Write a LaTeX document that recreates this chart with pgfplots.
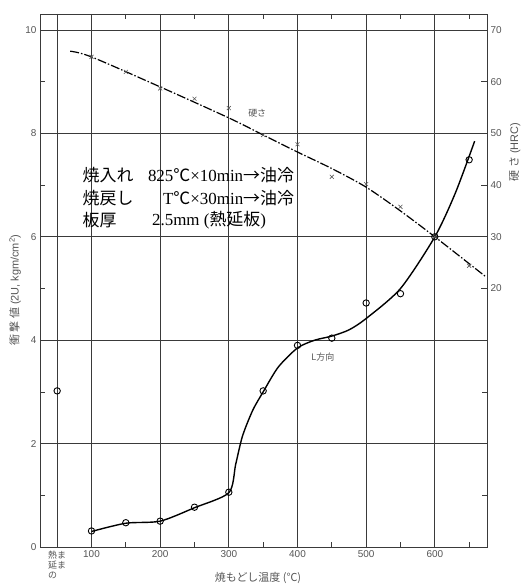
\documentclass[border=0pt]{standalone}
\usepackage{fontspec}
\setmainfont{Liberation Serif}
\newfontfamily\jp{Noto Sans CJK JP}
\newfontfamily\tk{Liberation Sans}
\usepackage{pgfplots}
\pgfplotsset{compat=1.18}
\definecolor{gridc}{HTML}{3A3A3A}
\definecolor{lab}{HTML}{555555}
\begin{document}
\begin{tikzpicture}
\begin{axis}[
  name=main,
  scale only axis, width=447bp, height=533bp,
  xmin=25, xmax=676, ymin=0, ymax=10.31,
  xtick={50,100,200,300,400,500,600},
  xticklabels={{\jp\fontsize{9}{10}\selectfont\begin{tabular}[t]{@{}l@{}}熱ま\\延ま\\の\end{tabular}},100,200,300,400,500,600},
  minor xtick={150,250,350,450,550,650},
  ytick={0,2,...,10}, minor ytick={1,3,...,9},
  grid=major, major grid style={gridc, line width=0.7pt},
  axis line style={gridc, line width=0.9pt},
  tick style={gridc, line width=0.7pt},
  major tick length=5bp, minor tick length=5bp,
  tick label style={font=\tk\fontsize{10}{12}\selectfont, text=lab},
  /pgf/number format/assume math mode=true,
  clip=false,
]
\addplot[black, line width=1.4pt, smooth, tension=0.45] coordinates {
  (100,0.30) (150,0.46) (200,0.50) (250,0.76) (300,1.05)
  (310,1.60) (320,2.15) (335,2.65) (350,3.00) (372,3.48)
  (400,3.85) (425,4.00) (450,4.08) (475,4.20) (500,4.42)
  (550,5.00) (600,6.00) (630,6.85) (658,7.85)
};
\addplot[only marks, mark=o, mark size=3.2bp, mark options={fill=white, draw=black, line width=0.9pt}] coordinates {
  (50,3.02) (100,0.31) (150,0.47) (200,0.50) (250,0.77) (300,1.06)
  (350,3.02) (400,3.90) (450,4.04) (500,4.72) (550,4.90) (600,6.00) (650,7.49)
};
\node[anchor=west, inner sep=0, font=\jp\fontsize{9}{10}\selectfont, text=lab] at (axis cs:328,8.39) {硬さ};
\node[anchor=west, inner sep=0, font=\jp\fontsize{9}{10}\selectfont, text=lab] at (axis cs:420,3.67) {L方向};
\node[anchor=west, inner sep=0, font=\fontsize{17}{20}\selectfont] at (axis cs:86.9,7.20) {\jp 焼入れ};
\node[anchor=west, inner sep=0, font=\fontsize{17}{20}\selectfont] at (axis cs:182,7.20) {825{\jp ℃}×10min{\jp →油冷}};
\node[anchor=west, inner sep=0, font=\fontsize{17}{20}\selectfont] at (axis cs:86.9,6.75) {\jp 焼戻し};
\node[anchor=west, inner sep=0, font=\fontsize{17}{20}\selectfont] at (axis cs:204,6.75) {T{\jp ℃}×30min{\jp →油冷}};
\node[anchor=west, inner sep=0, font=\fontsize{17}{20}\selectfont] at (axis cs:86.9,6.33) {\jp 板厚};
\node[anchor=west, inner sep=0, font=\fontsize{17}{20}\selectfont] at (axis cs:188,6.33) {2.5mm ({\jp 熱延板})};
\end{axis}
\begin{axis}[
  scale only axis, width=447bp, height=533bp,
  xmin=25, xmax=676, ymin=-30, ymax=73.1,
  axis x line=none, axis y line*=right,
  ytick={20,30,...,70},
  axis line style={gridc, line width=0.9pt},
  tick style={gridc, line width=0.7pt},
  major tick length=6bp,
  tick label style={font=\tk\fontsize{10}{12}\selectfont, text=lab},
  /pgf/number format/assume math mode=true,
]
\addplot[black, line width=1.2pt, smooth, tension=0.5, dash pattern=on 9pt off 2pt on 1.5pt off 2pt] coordinates {
  (69,65.9) (100,64.8) (200,59.0) (300,53.0) (350,49.7) (400,46.4)
  (450,43.2) (500,39.6) (550,35.0) (600,30.0) (675,22.2)
};
\addplot[only marks, mark=x, mark size=2.8bp, mark options={draw=gray!70!black, line width=0.6pt}] coordinates {
  (100,64.8) (150,61.9) (200,58.7) (250,56.7) (300,54.9) (350,49.7)
  (400,47.9) (450,41.6) (500,40.2) (550,35.8) (600,30.0) (650,24.4)
};
\end{axis}
\node[rotate=90, text=lab, font=\fontsize{11}{12}\selectfont] at ([xshift=-25bp,yshift=257bp]main.south west) {{\jp 衝 撃 値} {\tk (2U, kgm/cm\textsuperscript{2})}};
\node[rotate=90, text=lab, font=\fontsize{11}{12}\selectfont] at ([xshift=28bp,yshift=395bp]main.south east) {{\jp 硬 さ} {\tk (HRC)}};
\node[text=lab, font=\jp\fontsize{11}{12}\selectfont] at ([xshift=218bp,yshift=-31bp]main.south west) {焼もどし温度 (℃)};
\pgfresetboundingbox
\useasboundingbox ([xshift=-40bp,yshift=-40bp]main.south west) rectangle ([xshift=34bp,yshift=14bp]main.north east);
\end{tikzpicture}
\end{document}
